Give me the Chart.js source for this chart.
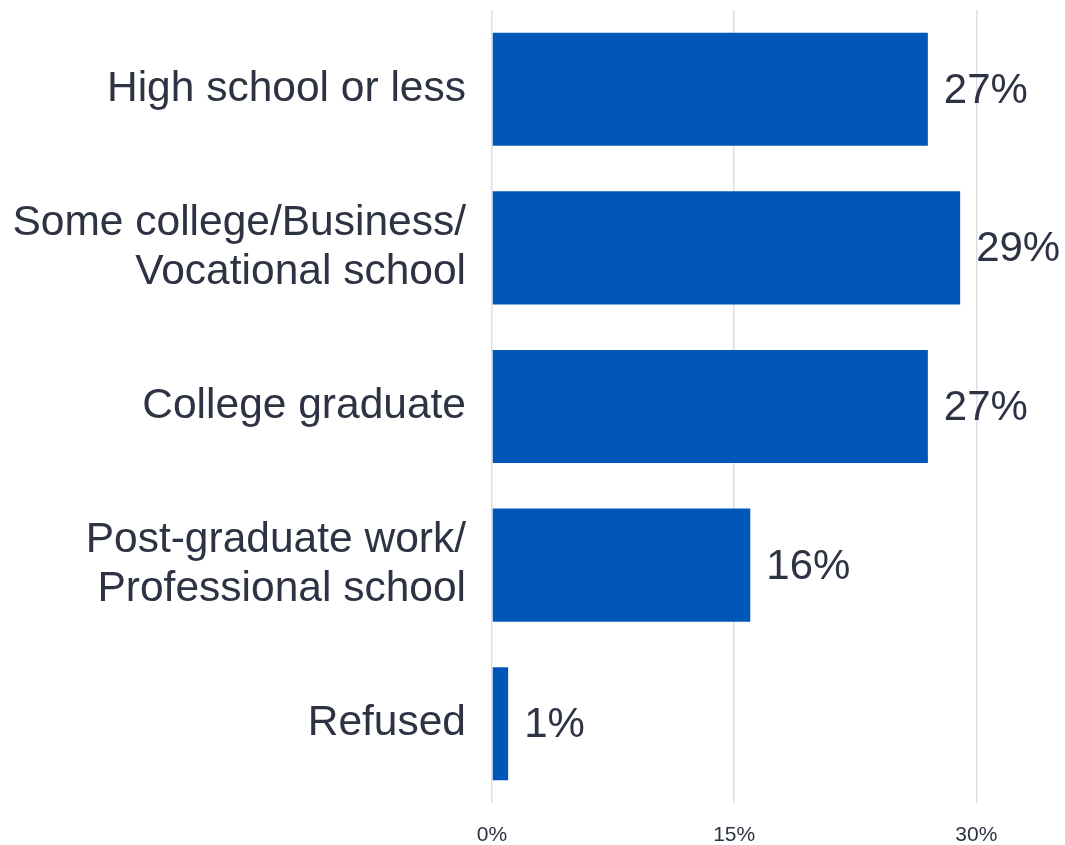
<!DOCTYPE html>
<html>
<head>
<meta charset="utf-8">
<script src="https://cdn.jsdelivr.net/npm/chart.js@4/dist/chart.umd.min.js"></script>
<style>
  html, body { margin: 0; padding: 0; background: #ffffff; }
</style>
</head>
<body>
<canvas id="mycanvas" width="1065" height="845"></canvas>
<script>
// chart data
var categories = [
  ["High school or less"],
  ["Some college/Business/", "Vocational school"],
  ["College graduate"],
  ["Post-graduate work/", "Professional school"],
  ["Refused"]
];
var values = [27, 29, 27, 16, 1]; // percent
var xTicks = [0, 15, 30];

var textColor = '#2e3344';
var barColor = '#0057b7';

// draws "27%" etc to the right of each bar
var valueLabels = {
  id: 'valueLabels',
  afterDatasetsDraw: function(chart) {
    var ctx = chart.ctx;
    var meta = chart.getDatasetMeta(0);
    ctx.save();
    ctx.font = '42px "Liberation Sans", Arial, sans-serif';
    ctx.fillStyle = textColor;
    ctx.textAlign = 'left';
    ctx.textBaseline = 'middle';
    meta.data.forEach(function(bar, i) {
      ctx.fillText(values[i] + '%', bar.x + 16, bar.y + 2);
    });
    ctx.restore();
  }
};

var ctx = document.getElementById('mycanvas').getContext('2d');

var barGraph = new Chart(ctx, {
  type: 'bar',
  data: {
    labels: categories,
    datasets: [{
      data: values,
      backgroundColor: barColor,
      borderWidth: 0,
      barPercentage: 0.713,
      categoryPercentage: 1
    }]
  },
  plugins: [valueLabels],
  options: {
    indexAxis: 'y',
    responsive: false,
    animation: false,
    layout: { padding: { top: 10, right: 8, bottom: 0, left: 0 } },
    plugins: {
      legend: { display: false },
      tooltip: { enabled: false }
    },
    scales: {
      x: {
        min: 0,
        max: 35,
        afterBuildTicks: function(scale) {
          scale.ticks = xTicks.map(function(v) { return { value: v }; });
        },
        afterFit: function(scale) {
          scale.height = 42;
          scale.paddingLeft = 0;
          scale.paddingRight = 0;
        },
        grid: { color: '#dcdde8', lineWidth: 1.5, drawTicks: false },
        border: { display: false },
        ticks: {
          padding: 20,
          color: textColor,
          font: { family: '"Liberation Sans", Arial, sans-serif', size: 21 },
          callback: function(v) { return v + '%'; }
        }
      },
      y: {
        afterFit: function(scale) {
          scale.width = 492;
          scale.paddingTop = 0;
          scale.paddingBottom = 0;
        },
        grid: { display: false, drawTicks: false },
        border: { display: false },
        ticks: {
          padding: 26,
          color: textColor,
          font: { family: '"Liberation Sans", Arial, sans-serif', size: 42.5, lineHeight: 1.16 }
        }
      }
    }
  }
});
</script>
</body>
</html>
